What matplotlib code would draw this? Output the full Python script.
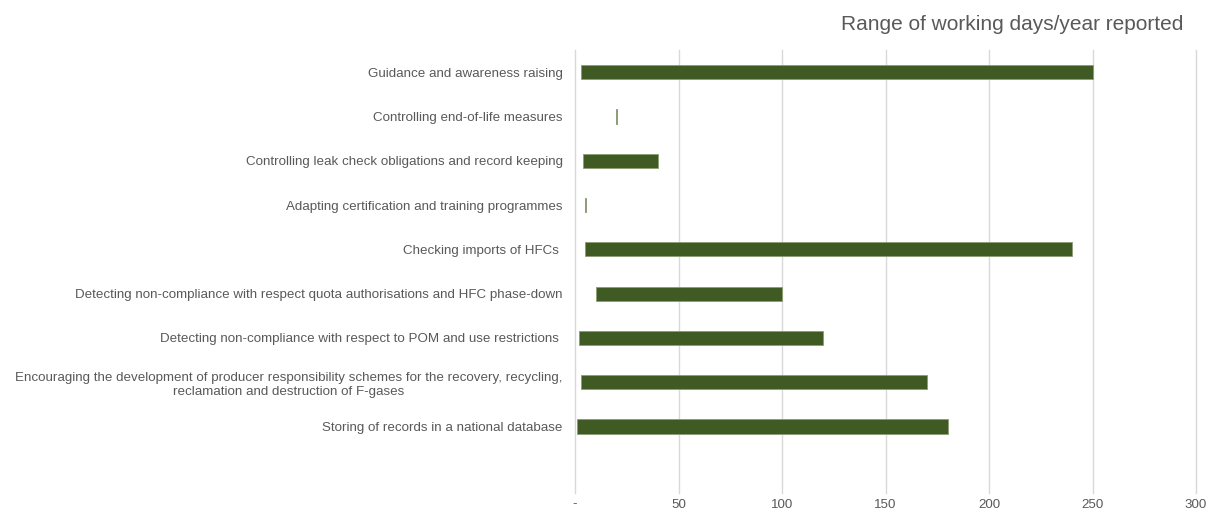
import matplotlib
matplotlib.use("Agg")
import matplotlib.pyplot as plt

# Range of working days/year reported per activity (low, high), top to bottom
activities = [
    "Guidance and awareness raising",
    "Controlling end-of-life measures",
    "Controlling leak check obligations and record keeping",
    "Adapting certification and training programmes",
    "Checking imports of HFCs ",
    "Detecting non-compliance with respect quota authorisations and HFC phase-down",
    "Detecting non-compliance with respect to POM and use restrictions ",
    "Encouraging the development of producer responsibility schemes for the recovery, recycling,\nreclamation and destruction of F-gases",
    "Storing of records in a national database",
]
low = [3, 20, 4, 5, 5, 10, 2, 3, 1]
high = [250, 20.5, 40, 5.5, 240, 100, 120, 170, 180]

xticks = [0, 50, 100, 150, 200, 250, 300]
xticklabels = ["-", "50", "100", "150", "200", "250", "300"]

TXT = "#595959"
BAR = "#3f5a22"

fig = plt.figure(figsize=(12.09, 5.11), dpi=100)
W, H = 1209, 511
ax = fig.add_axes([575 / W, 1 - 493 / H, (1196 - 575) / W, (493 - 50) / H])

ypos = list(range(len(activities)))
widths = [h - l for l, h in zip(low, high)]
ax.barh(ypos, widths, left=low, height=0.32, color=BAR, edgecolor="#8a9c74", lw=0.6, zorder=3)

ax.set_xlim(0, 300)
ax.set_ylim(9.5, -0.5)
ax.set_xticks(xticks)
ax.set_xticklabels(xticklabels)
ax.set_yticks(ypos)
ax.set_yticklabels(activities, multialignment="center")
ax.tick_params(axis="both", length=0, colors=TXT, labelsize=9.6)
ax.tick_params(axis="y", pad=9)
ax.tick_params(axis="x", pad=4)
for lab in ax.get_xticklabels() + ax.get_yticklabels():
    lab.set_family("Liberation Sans")
for x in xticks:
    ax.axvline(x, color="#d9d9d9", lw=1, zorder=0, clip_on=False)
for s in ax.spines.values():
    s.set_visible(False)

fig.text(1183 / W, 1 - 25 / H, "Range of working days/year reported", ha="right", va="center",
         fontsize=15, color=TXT, family="Liberation Sans")

fig.savefig("out.png", dpi=100)
